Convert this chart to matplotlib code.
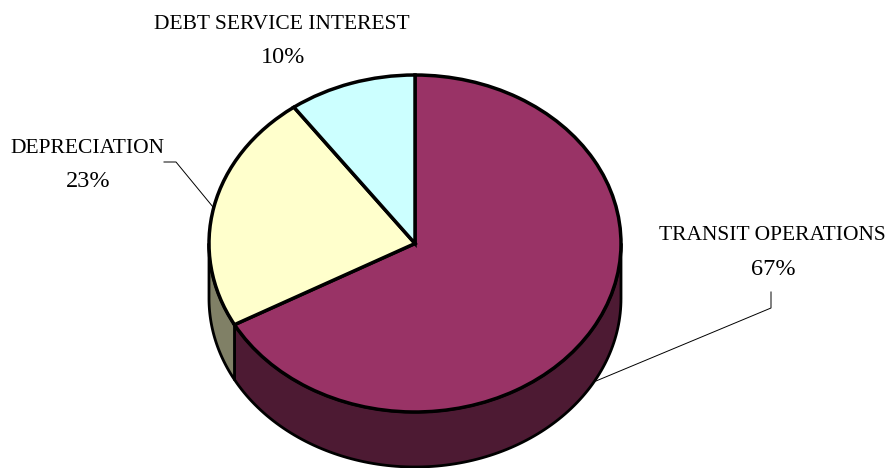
import numpy as np
import matplotlib
matplotlib.use('Agg')
import matplotlib.pyplot as plt

labels = ['TRANSIT OPERATIONS', 'DEPRECIATION', 'DEBT SERVICE INTEREST']
shares = [67, 23, 10]
top_colors = ['#993366', '#ffffcc', '#ccffff']
side_colors = ['#4d1a33', '#808066', '#668080']

W, H = 887, 468
CX, CY = 415.0, 243.5   # pie centre, pixels
RX, RY = 206.0, 168.5   # pie radii, pixels
DEPTH = 55.0            # height of the wall, pixels
EDGE = 2.5


def px(x, y):
    """pixel position -> data position (the pie has radius 1)"""
    return (x - CX) / RX, (CY - y) / RY


def wall(ax, a0, a1, color):
    """draw the visible side wall of a slice between two angles in degrees"""
    t = np.radians(np.linspace(a0, a1, 120))
    x = np.cos(t)
    y = np.sin(t)
    d = DEPTH / RY
    ax.fill(np.r_[x, x[::-1]], np.r_[y, (y - d)[::-1]],
            facecolor=color, edgecolor='black', linewidth=EDGE * 0.8,
            joinstyle='round', zorder=1)


fig = plt.figure(figsize=(W / 100, H / 100), dpi=100)
ax = fig.add_axes([0, 0, 1, 1])

# slices run clockwise from 12 o'clock, only the part facing down has a wall
bounds = 90 - np.cumsum([0] + shares) * 3.6
a_transit = bounds[1] + 360
wall(ax, a_transit, 360, side_colors[0])
wall(ax, 180, a_transit, side_colors[1])

ax.pie(shares, colors=top_colors, startangle=90, counterclock=False, radius=1,
       wedgeprops={'edgecolor': 'black', 'linewidth': EDGE, 'zorder': 2})
ax.set_aspect('auto')
ax.set_xlim(px(0, 0)[0], px(W, 0)[0])
ax.set_ylim(px(0, H)[1], px(0, 0)[1])
ax.axis('off')

# leader lines
leaders = [
    [(164, 162), (176, 162), (213, 207)],
    [(771, 292), (771, 308), (596, 381)],
]
for pts in leaders:
    xs, ys = zip(*[px(*p) for p in pts])
    ax.plot(xs, ys, color='black', lw=0.7, zorder=3)

font = {'family': ['Liberation Serif', 'DejaVu Serif'], 'color': 'black',
        'ha': 'center', 'va': 'baseline', 'zorder': 4}
label_pos = [(772, 240), (87, 153), (282, 29)]
value_pos = [(773, 275), (88, 187), (283, 63)]
for name, share, p, q in zip(labels, shares, label_pos, value_pos):
    ax.text(*px(*p), name, fontsize=15.5, **font)
    ax.text(*px(*q), f'{share}%', fontsize=17.5, **font)

fig.savefig('out.png', dpi=100)
